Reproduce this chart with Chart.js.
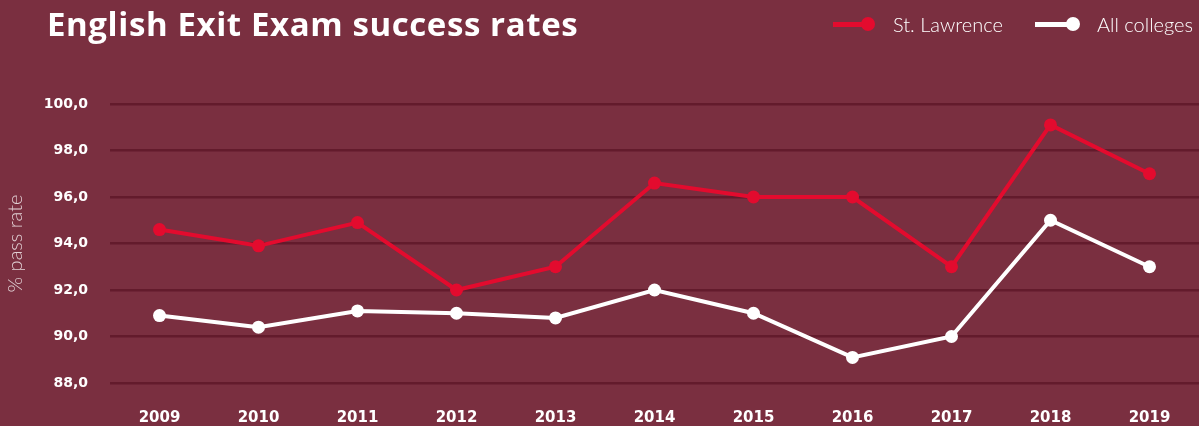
<!DOCTYPE html>
<html>
<head>
<meta charset="utf-8">
<script src="https://cdn.jsdelivr.net/npm/chart.js@4"></script>
<style>
  html, body { margin:0; padding:0; background:#7a2f40; }
  #wrap { position:relative; width:1199px; height:426px; background:#7a2f40; overflow:hidden; font-family:Lato, "Open Sans", sans-serif; }
  #c { position:absolute; left:0; top:0; }
  #title { position:absolute; left:47px; top:1px; color:#fff; font-family:"Open Sans", Lato, sans-serif; font-weight:700; font-size:33px; letter-spacing:0.6px; white-space:nowrap; }
  .leg { position:absolute; top:11px; color:#fff; font-weight:300; font-size:20px; white-space:nowrap; line-height:26px; }
  .sym { position:absolute; top:21.5px; height:5px; }
  .dot { position:absolute; top:17px; width:14px; height:14px; border-radius:50%; }
</style>
</head>
<body>
<div id="wrap">
  <canvas id="c" width="1199" height="426"></canvas>
  <div id="title">English Exit Exam success rates</div>
  <div class="sym" style="left:833px; width:35px; background:#e30b2e;"></div>
  <div class="dot" style="left:861px; background:#e30b2e;"></div>
  <div class="leg" style="left:893px;">St. Lawrence</div>
  <div class="sym" style="left:1035px; width:38px; background:#fff;"></div>
  <div class="dot" style="left:1066px; background:#fff;"></div>
  <div class="leg" style="left:1097px;">All colleges</div>
</div>
<script>
const years = ["2009","2010","2011","2012","2013","2014","2015","2016","2017","2018","2019"];
const stLawrence = [94.6, 93.9, 94.9, 92.0, 93.0, 96.6, 96.0, 96.0, 93.0, 99.1, 97.0];
const allColleges = [90.9, 90.4, 91.1, 91.0, 90.8, 92.0, 91.0, 89.1, 90.0, 95.0, 93.0];
const seriesNames = ["St. Lawrence", "All colleges"];
const yTitle = "% pass rate";

new Chart(document.getElementById('c'), {
  type: 'line',
  data: {
    labels: years,
    datasets: [
      { label: seriesNames[0], data: stLawrence, borderColor:'#e30b2e', backgroundColor:'#e30b2e',
        borderWidth:4, pointRadius:6.5, pointHoverRadius:6.5, pointBorderWidth:0, tension:0, clip:false },
      { label: seriesNames[1], data: allColleges, borderColor:'#ffffff', backgroundColor:'#ffffff',
        borderWidth:4, pointRadius:6.5, pointHoverRadius:6.5, pointBorderWidth:0, tension:0, clip:false }
    ]
  },
  options: {
    responsive:false,
    animation:false,
    layout: { autoPadding:false, padding: { top:104, right:0, left:0, bottom:0 } },
    plugins: { legend:{display:false}, tooltip:{enabled:false}, title:{display:false} },
    scales: {
      x: {
        offset:true,
        grid:{display:false, drawTicks:false},
        border:{display:false},
        ticks:{ color:'#fff', font:{family:'DejaVu Sans', weight:'bold', size:15}, padding:26, maxRotation:0, autoSkip:false },
        afterFit(s){ s.height = 43; s.paddingLeft = 0; s.paddingRight = 0; }
      },
      y: {
        min:88, max:100,
        grid:{ color:'#631b2c', lineWidth:2.5, drawTicks:false },
        border:{display:false},
        ticks:{ stepSize:2, color:'#fff', font:{family:'DejaVu Sans', weight:'bold', size:14}, padding:22,
          callback:(v)=> v.toFixed(1).replace('.', ',') },
        title:{ display:true, text:yTitle, color:'rgba(255,255,255,0.78)', font:{family:'Lato', weight:'300', size:20}, padding:{top:4,bottom:0} },
        afterFit(s){ s.width = 110; s.paddingTop = 0; s.paddingBottom = 0; }
      }
    }
  }
});
</script>
</body>
</html>
